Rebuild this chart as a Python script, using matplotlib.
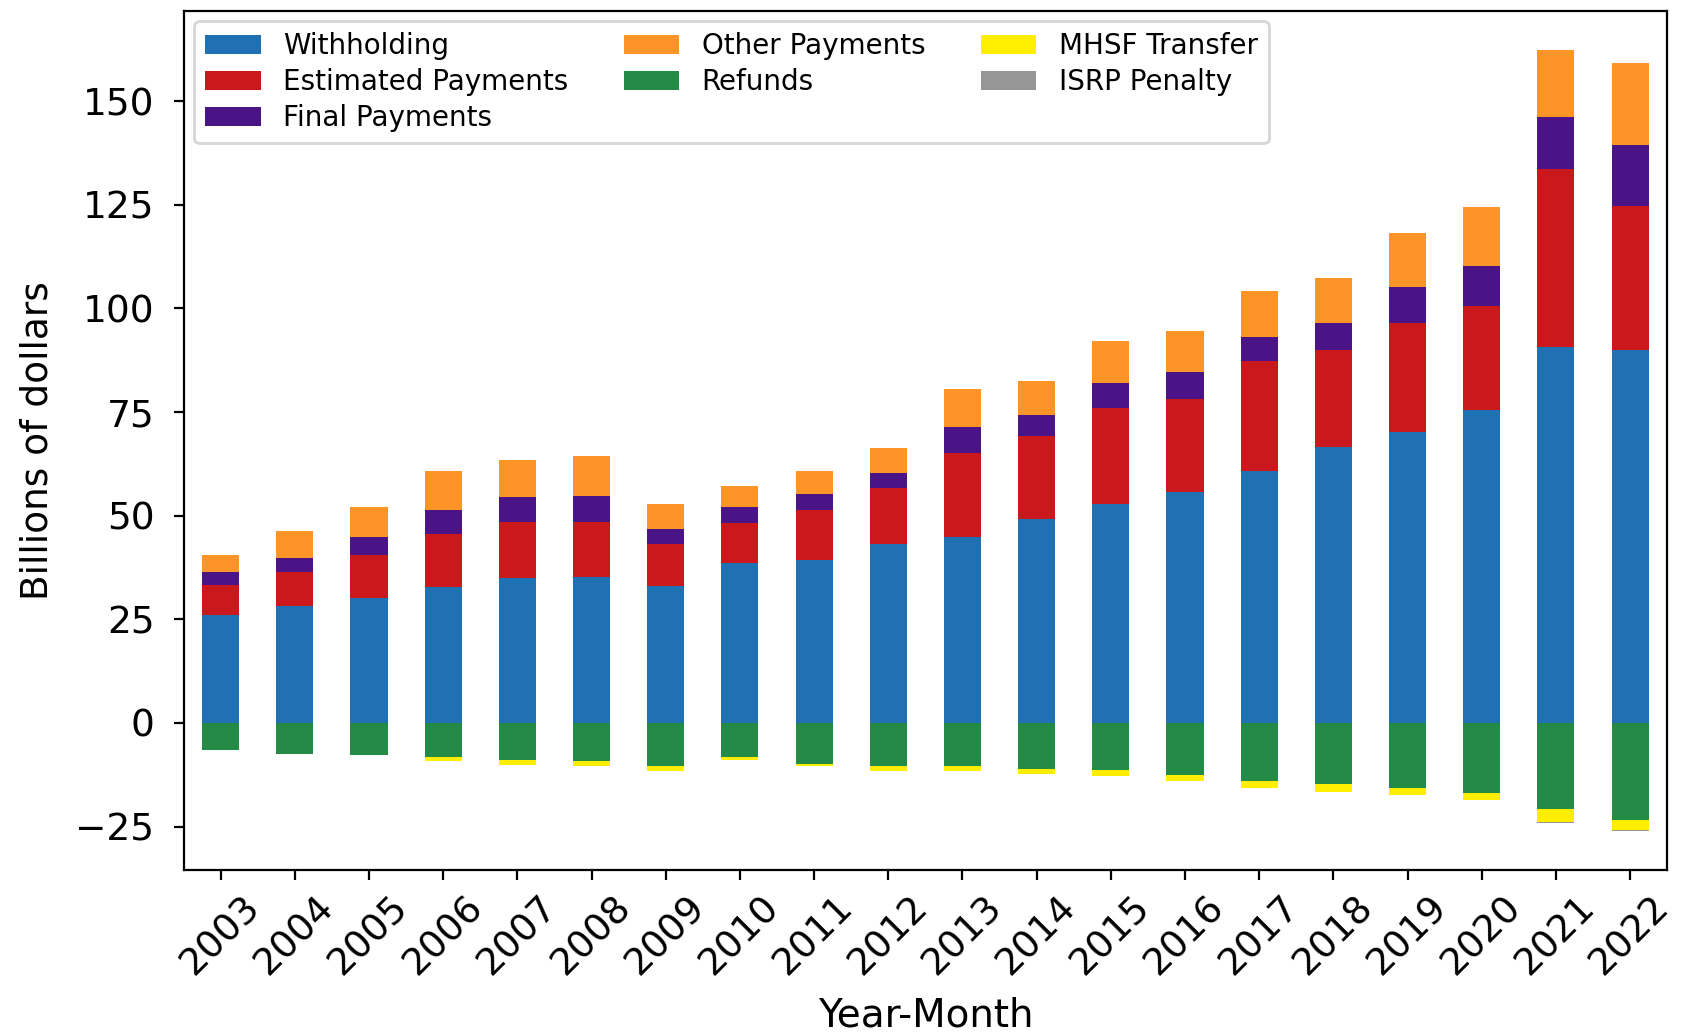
import numpy as np
import matplotlib
matplotlib.use('Agg')
import matplotlib.pyplot as plt

# receipts by component, billions of dollars
years = ['2003', '2004', '2005', '2006', '2007', '2008', '2009', '2010', '2011', '2012',
         '2013', '2014', '2015', '2016', '2017', '2018', '2019', '2020', '2021', '2022']

withholding = [26.1, 28.1, 30.2, 32.8, 34.9, 35.1, 33.0, 38.7, 39.2, 43.1,
               44.9, 49.3, 52.9, 55.8, 60.7, 66.6, 70.2, 75.4, 90.6, 89.9]
estimated = [7.2, 8.3, 10.3, 12.9, 13.6, 13.4, 10.1, 9.6, 12.2, 13.7,
             20.2, 19.9, 23.0, 22.4, 26.6, 23.3, 26.4, 25.3, 43.1, 34.8]
final = [3.1, 3.4, 4.4, 5.7, 6.0, 6.2, 3.6, 3.9, 3.9, 3.6,
         6.2, 5.2, 6.2, 6.5, 5.9, 6.7, 8.5, 9.6, 12.4, 14.7]
other = [4.1, 6.4, 7.3, 9.3, 9.0, 9.6, 6.2, 4.9, 5.6, 6.0,
         9.3, 8.0, 10.1, 9.8, 10.9, 10.8, 13.2, 14.2, 16.3, 19.7]
refunds = [-6.45, -7.4, -7.7, -8.3, -8.9, -9.3, -10.5, -8.1, -9.8, -10.5,
           -10.5, -11.0, -11.4, -12.6, -14.1, -14.8, -15.6, -16.9, -20.8, -23.4]
mhsf = [0.0, 0.0, 0.0, -1.0, -1.3, -1.2, -1.0, -0.9, -0.7, -1.0,
        -1.2, -1.3, -1.3, -1.5, -1.6, -1.8, -1.9, -1.8, -3.0, -2.4]
isrp = [0.0, 0.0, 0.0, 0.0, 0.0, 0.0, 0.0, 0.0, 0.0, 0.0,
        0.0, 0.0, 0.0, 0.0, 0.0, 0.0, 0.0, 0.0, -0.25, -0.25]

series = [
    ('Withholding', withholding, '#2070b4'),
    ('Estimated Payments', estimated, '#cb181d'),
    ('Final Payments', final, '#4a1486'),
    ('Other Payments', other, '#fd9428'),
    ('Refunds', refunds, '#238b45'),
    ('MHSF Transfer', mhsf, '#ffee00'),
    ('ISRP Penalty', isrp, '#969696'),
]

fig = plt.figure(figsize=(8.42, 5.16), dpi=200)
ax = fig.add_axes([0.109, 0.157, 0.881, 0.8326])

x = np.arange(len(years))
pos_base = np.zeros(len(years))
neg_base = np.zeros(len(years))
for name, vals, color in series:
    vals = np.array(vals)
    base = np.where(vals >= 0, pos_base, neg_base)
    ax.bar(x, vals, width=0.5, bottom=base, color=color, label=name)
    pos_base = pos_base + np.clip(vals, 0, None)
    neg_base = neg_base + np.clip(vals, None, 0)

ax.set_xlim(-0.5, len(years) - 0.5)
ax.set_xticks(x)
ax.set_xticklabels(years, rotation=45, fontsize=13.5)
ax.tick_params(axis='y', labelsize=13.5, pad=7)
ax.set_xlabel('Year-Month', fontsize=14, labelpad=5)
ax.set_ylabel('Billions of dollars', fontsize=13.5, labelpad=7)
ax.set_title('Withholding by Tax Component', fontsize=16, pad=8)
ax.legend(loc='upper left', ncol=3, fontsize=10, labelspacing=0.28,
          borderaxespad=0.38)

fig.savefig('out.png', dpi=200)
